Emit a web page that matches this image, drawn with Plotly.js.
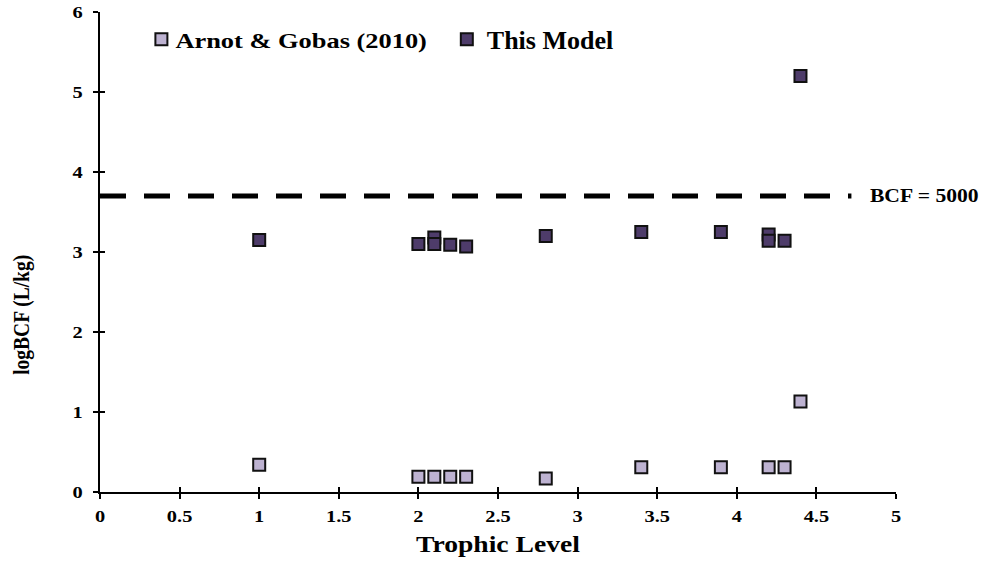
<!DOCTYPE html>
<html>
<head>
<meta charset="utf-8">
<script src="https://cdn.plot.ly/plotly-3.0.1.min.js"></script>
<style>
  html, body { margin: 0; padding: 0; background: #fff; }
  #chart { width: 984px; height: 566px; }
</style>
</head>
<body>
<div id="chart"></div>
<script>
// Trophic level of each species and its log bioconcentration factor
const arnotTL   = [1.0, 2.0, 2.1, 2.2, 2.3, 2.8, 3.4, 3.9, 4.2, 4.3, 4.4];
const arnotBCF  = [0.34, 0.19, 0.19, 0.19, 0.19, 0.17, 0.31, 0.31, 0.31, 0.31, 1.13];
const modelTL   = [1.0, 2.0, 2.1, 2.1, 2.2, 2.3, 2.8, 3.4, 3.9, 4.2, 4.2, 4.3, 4.4];
const modelBCF  = [3.15, 3.10, 3.18, 3.10, 3.09, 3.07, 3.20, 3.25, 3.25, 3.22, 3.14, 3.14, 5.20];
// Regulatory threshold: BCF = 5000 L/kg
const thresholdX = [0, 4.72];
const thresholdY = [Math.log10(5000), Math.log10(5000)];
const xTicks = [0, 0.5, 1, 1.5, 2, 2.5, 3, 3.5, 4, 4.5, 5];
const yTicks = [0, 1, 2, 3, 4, 5, 6];

const serif = 'Liberation Serif, Times New Roman, serif';
const WIDEN = 1.2;   // horizontal widening applied to the labels after drawing

const traces = [
  {
    x: thresholdX, y: thresholdY, type: 'scatter', mode: 'lines',
    line: { color: '#000', width: 5, dash: '26px,18px' },
    showlegend: false, hoverinfo: 'skip'
  },
  {
    x: arnotTL, y: arnotBCF, type: 'scatter', mode: 'markers',
    name: 'Arnot & Gobas (2010)', legend: 'legend',
    marker: { symbol: 'square', size: 12, color: '#bdb2d1', line: { color: '#111', width: 2 } }
  },
  {
    x: modelTL, y: modelBCF, type: 'scatter', mode: 'markers',
    name: 'This Model', legend: 'legend2',
    marker: { symbol: 'square', size: 12, color: '#4e3c6a', line: { color: '#111', width: 2 } }
  }
];

const tickFont = { family: serif, size: 17, color: '#000', weight: 'bold' };
const axisCommon = {
  showgrid: false, zeroline: false, showline: true,
  linecolor: '#000', linewidth: 2,
  ticks: 'outside', ticklen: 5, tickwidth: 2, tickcolor: '#000',
  tickfont: tickFont
};
const legendCommon = {
  orientation: 'h', xanchor: 'left', yanchor: 'middle',
  bgcolor: 'rgba(0,0,0,0)'
};

const layout = {
  width: 984, height: 566,
  margin: { l: 100, r: 88, t: 12, b: 74 },
  paper_bgcolor: '#fff', plot_bgcolor: '#fff',
  showlegend: true,
  legend: Object.assign({}, legendCommon, { x: 0.052, y: 0.943,
    font: { family: serif, size: 22, color: '#000', weight: 'bold' } }),
  legend2: Object.assign({}, legendCommon, { x: 0.4357, y: 0.943,
    font: { family: serif, size: 26, color: '#000', weight: 'bold' } }),
  xaxis: Object.assign({}, axisCommon, {
    range: [0, 5], tickvals: xTicks, ticktext: xTicks.map(String),
    ticklabelstandoff: 3,
    title: { text: 'Trophic Level', font: { family: serif, size: 23, color: '#000', weight: 'bold' }, standoff: 10 }
  }),
  yaxis: Object.assign({}, axisCommon, {
    range: [0, 6], tickvals: yTicks, ticktext: yTicks.map(String),
    ticklabelstandoff: 7
  }),
  // Mirror axes carry the inner half of each tick so ticks cross the axis line
  xaxis2: {
    overlaying: 'x', range: [0, 5], tickvals: xTicks, showticklabels: false,
    ticks: 'inside', ticklen: 5, tickwidth: 2, tickcolor: '#000',
    showgrid: false, zeroline: false, showline: false, side: 'bottom'
  },
  yaxis2: {
    overlaying: 'y', range: [0, 6], tickvals: yTicks, showticklabels: false,
    ticks: 'inside', ticklen: 5, tickwidth: 2, tickcolor: '#000',
    showgrid: false, zeroline: false, showline: false, side: 'left'
  },
  annotations: [
    {
      x: 4.883, y: Math.log10(5000), xref: 'x', yref: 'y', xanchor: 'left', yanchor: 'middle',
      text: 'BCF = 5000', showarrow: false,
      font: { family: serif, size: 18, color: '#000', weight: 'bold' }
    },
    {
      x: -0.098, y: 0.369, xref: 'paper', yref: 'paper', xanchor: 'center', yanchor: 'middle',
      text: 'logBCF (L/kg)', textangle: -90, showarrow: false,
      font: { family: serif, size: 19.5, color: '#000', weight: 'bold' }
    }
  ]
};

// Invisible trace so the mirror axes are drawn
traces.push({ x: [0], y: [0], xaxis: 'x2', yaxis: 'y2', mode: 'markers',
  marker: { opacity: 0 }, showlegend: false, hoverinfo: 'skip' });

// Idempotent: safe to run after every redraw
function widenLabels(gd) {
  const sel = '.xtick text, .ytick text, .legendtext, .g-xtitle text, .annotation-text';
  gd.querySelectorAll(sel).forEach(el => {
    const txt = el.textContent;
    if (txt.indexOf('logBCF') === 0 || txt === 'This Model') return;
    const key = txt + '|' + getComputedStyle(el).fontSize;
    if (el.dataset.key !== key || !el.getAttribute('textLength')) {
      el.removeAttribute('textLength');
      const w = el.getComputedTextLength();
      if (!w) return;
      el.setAttribute('textLength', (w * WIDEN).toFixed(1));
      el.setAttribute('lengthAdjust', 'spacingAndGlyphs');
      el.dataset.key = key;
    }
    if (el.classList.contains('legendtext')) {
      const x = parseFloat(el.getAttribute('x'));
      if (el.dataset.sx !== String(x)) {
        const nx = x - 6;
        el.setAttribute('x', nx);
        el.dataset.sx = String(nx);
      }
    }
  });
  // Let the wider legend entries show in full
  gd.querySelectorAll('.infolayer [clip-path]').forEach(g => g.removeAttribute('clip-path'));
  // Rotated y title: thicken the glyphs in the text's own frame (becomes horizontal once rotated)
  gd.querySelectorAll('.annotation-text').forEach(t => {
    if (t.textContent.indexOf('logBCF') !== 0) return;
    if (t.dataset.tf && t.getAttribute('transform') === t.dataset.tf) return;
    t.removeAttribute('transform');
    const bb = t.getBBox();
    if (!bb.height) return;
    const cy = bb.y + bb.height / 2;
    const tf = `translate(0,${cy}) scale(1,${WIDEN}) translate(0,${-cy})`;
    t.setAttribute('transform', tf);
    t.dataset.tf = tf;
  });
}

const gd = document.getElementById('chart');
const obs = new MutationObserver(() => widenLabels(gd));
obs.observe(gd, { childList: true, subtree: true, characterData: true, attributes: true,
  attributeFilter: ['x', 'y', 'transform', 'style', 'class', 'display', 'visibility', 'clip-path'] });

// Keep checking for a while in case labels are redrawn late
let frames = 0;
(function tick() {
  widenLabels(gd);
  if (++frames < 240) requestAnimationFrame(tick);
})();

Plotly.newPlot(gd, traces, layout, { displayModeBar: false, staticPlot: true }).then(() => widenLabels(gd));
</script>
</body>
</html>
